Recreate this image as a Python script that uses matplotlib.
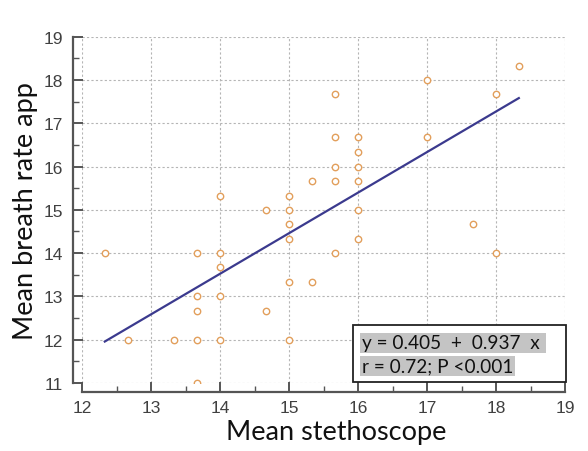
import matplotlib
matplotlib.use('Agg')
import matplotlib.pyplot as plt
from matplotlib.patches import Rectangle
import numpy as np

# данные
stethoscope = [12.33, 12.67, 13.33, 13.67, 13.67, 13.67, 13.67, 13.67,
               14, 14, 14, 14, 14, 14.67, 14.67,
               15, 15, 15, 15, 15, 15, 15.33, 15.33,
               15.67, 15.67, 15.67, 15.67, 15.67,
               16, 16, 16, 16, 16, 16,
               17, 17, 17.67, 18, 18, 18.33]
breath_app = [14, 12, 12, 14, 13, 12.67, 12, 11,
              15.33, 14, 13.67, 13, 12, 15, 12.67,
              15.33, 15, 14.67, 14.33, 13.33, 12, 15.67, 13.33,
              17.67, 16.67, 16, 15.67, 14,
              16.67, 16.33, 16, 15.67, 15, 14.33,
              18, 16.67, 14.67, 17.67, 14, 18.33]
intercept = 0.405
slope = 0.937
eq_lines = ['y = 0.405  +  0.937  x ', 'r = 0.72; P <0.001']

x_ticks = [12, 13, 14, 15, 16, 17, 18, 19]
y_ticks = [11, 12, 13, 14, 15, 16, 17, 18, 19]

label_font = 'Lato'


def main():
    plt.rcParams['font.family'] = ['Liberation Sans', 'DejaVu Sans']
    fig = plt.figure(figsize=(5.88, 4.52), dpi=100)
    ax = fig.add_axes([0.1395, 0.1504, 0.961 - 0.1395, 0.9168 - 0.1504])

    ax.set_xlim(12, 19)
    ax.set_ylim(11, 19)
    ax.set_xticks(x_ticks)
    ax.set_yticks(y_ticks)
    ax.set_xticks(np.arange(12.5, 19, 1), minor=True)
    ax.set_yticks(np.arange(11.5, 19, 1), minor=True)

    ax.grid(True, which='major', color='#b5b5b5', linestyle=(0, (2, 2)), linewidth=0.8)
    ax.set_axisbelow(True)

    for side in ['top', 'right']:
        ax.spines[side].set_visible(False)
    for side in ['left', 'bottom']:
        ax.spines[side].set_position(('outward', 6.5))
        ax.spines[side].set_color('#555555')
        ax.spines[side].set_linewidth(1.6)

    ax.tick_params(which='major', direction='in', length=7, width=1.4, color='#555555',
                   labelsize=12.5, labelcolor='#404040')
    ax.tick_params(axis='x', which='major', pad=6)
    ax.tick_params(axis='y', which='major', pad=7)
    ax.tick_params(which='minor', direction='in', length=4, width=1.0, color='#555555')

    # линия регрессии
    xs = np.array([min(stethoscope), max(stethoscope)])
    ax.plot(xs, intercept + slope * xs, color='#3b3a8e', linewidth=1.6, zorder=3)

    ax.plot(stethoscope, breath_app, linestyle='none', marker='o', markersize=4.6,
            markerfacecolor='white', markeredgecolor='#e29f5c', markeredgewidth=1.0, zorder=4)

    ax.set_xlabel('Mean stethoscope', fontsize=19.5, family=label_font, color='#111111')
    ax.set_ylabel('Mean breath rate app', fontsize=19.5, family=label_font, color='#111111')
    ax.xaxis.set_label_coords((336 - 82) / 483, -(420 - 384) / 346.4)
    ax.yaxis.set_label_coords(-(82 - 38) / 483, 0.5)

    # рамка с уравнением
    box = Rectangle((353 / 588, 1 - 383 / 452), 213 / 588, 57 / 452, transform=fig.transFigure,
                    facecolor='white', edgecolor='#222222', linewidth=1.3, zorder=5)
    fig.add_artist(box)
    for i, line in enumerate(eq_lines):
        fig.text(362 / 588, 1 - (344 + 23 * i) / 452, line, fontsize=13.7, family=label_font,
                 va='center', ha='left', color='#111111', zorder=6,
                 bbox=dict(facecolor='#c4c4c4', edgecolor='none', pad=1.2))

    fig.savefig('out.png', dpi=100)


if __name__ == '__main__':
    main()
